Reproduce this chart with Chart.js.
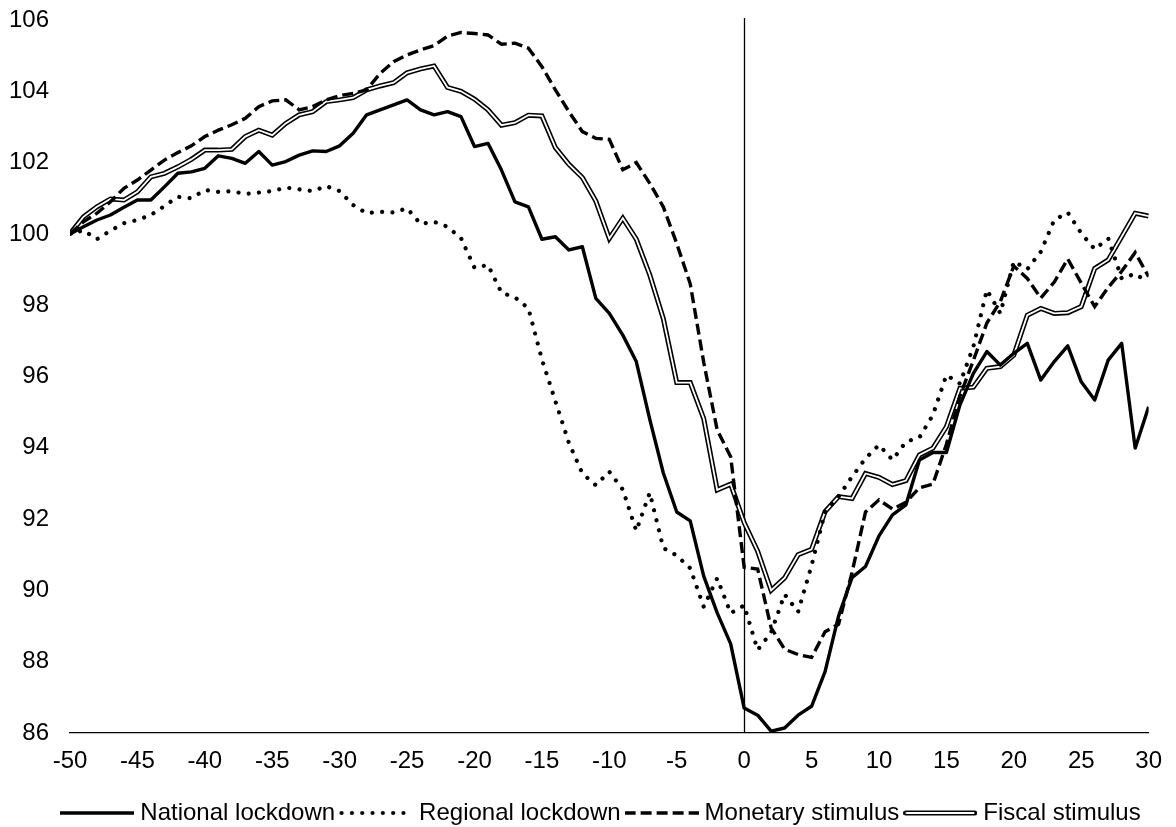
<!DOCTYPE html>
<html>
<head>
<meta charset="utf-8">
<script src="https://cdn.jsdelivr.net/npm/chart.js@4.4.1/dist/chart.umd.min.js"></script>
<style>
html,body{margin:0;padding:0;background:#ffffff;}
canvas{display:block;}
</style>
</head>
<body>
<canvas id="chart" width="1176" height="827"></canvas>
<script>
// ---- Data ----
const days = [-50,-49,-48,-47,-46,-45,-44,-43,-42,-41,
  -40,-39,-38,-37,-36,-35,-34,-33,-32,-31,
  -30,-29,-28,-27,-26,-25,-24,-23,-22,-21,
  -20,-19,-18,-17,-16,-15,-14,-13,-12,-11,
  -10,-9,-8,-7,-6,-5,-4,-3,-2,-1,
  0,1,2,3,4,5,6,7,8,9,
  10,11,12,13,14,15,16,17,18,19,
  20,21,22,23,24,25,26,27,28,29,
  30];

const nationalLockdown = [100,100.2,100.39,100.53,100.75,100.95,100.95,101.32,101.7,101.74,
  101.84,102.19,102.12,101.98,102.31,101.93,102.03,102.21,102.33,102.31,
  102.47,102.82,103.34,103.48,103.62,103.76,103.48,103.34,103.43,103.29,
  102.45,102.54,101.79,100.9,100.76,99.85,99.92,99.55,99.64,98.19,
  97.77,97.16,96.42,94.8,93.3,92.2,91.95,90.4,89.37,88.5,
  86.7,86.5,86.05,86.14,86.5,86.75,87.72,89.28,90.36,90.67,
  91.53,92.12,92.4,93.66,93.87,93.87,95.2,96.09,96.7,96.32,
  96.65,96.93,95.9,96.42,96.86,95.85,95.34,96.46,96.93,93.99,
  95.15];

const regionalLockdown = [100,100.1,99.85,100.09,100.3,100.39,100.53,100.78,101.04,101.0,
  101.23,101.18,101.2,101.12,101.16,101.2,101.3,101.25,101.2,101.34,
  101.2,100.81,100.58,100.62,100.6,100.72,100.28,100.34,100.2,99.88,
  99.05,99.13,98.35,98.22,97.91,96.48,95.31,94.14,93.28,92.95,
  93.33,92.83,91.67,92.74,91.19,90.98,90.62,89.54,90.34,89.36,
  89.58,88.33,88.82,89.89,89.4,90.7,92.2,92.63,93.19,93.7,
  94.08,93.66,94.17,94.29,94.92,96.04,95.8,96.84,98.43,97.77,
  99.23,99.01,99.5,100.39,100.6,100.02,99.57,99.87,98.75,98.88,
  98.63];

const monetaryStimulus = [100,100.34,100.58,100.9,101.28,101.51,101.79,102.07,102.28,102.47,
  102.73,102.91,103.06,103.24,103.57,103.73,103.76,103.48,103.57,103.76,
  103.88,103.94,104.04,104.5,104.83,105.02,105.16,105.28,105.55,105.65,
  105.62,105.58,105.32,105.35,105.21,104.69,104.04,103.43,102.87,102.68,
  102.65,101.8,102.0,101.42,100.76,99.73,98.6,96.4,94.5,93.75,
  90.65,90.6,88.95,88.35,88.2,88.12,88.84,89.05,90.5,92.2,
  92.54,92.28,92.47,92.88,92.98,94.1,95.45,96.45,97.5,98.1,
  99.1,98.75,98.2,98.65,99.3,98.62,97.96,98.5,98.95,99.48,
  98.8];

const fiscalStimulus = [100,100.48,100.76,100.98,100.95,101.18,101.6,101.7,101.88,102.09,
  102.35,102.35,102.37,102.73,102.91,102.77,103.1,103.34,103.43,103.71,
  103.76,103.82,104.04,104.15,104.24,104.52,104.63,104.71,104.11,104.0,
  103.78,103.48,103.05,103.12,103.33,103.31,102.42,101.95,101.58,100.92,
  99.87,100.44,99.85,98.85,97.63,95.83,95.83,94.82,92.82,92.98,
  91.9,91.1,90.0,90.35,91.0,91.15,92.21,92.63,92.58,93.28,
  93.17,92.97,93.08,93.8,93.99,94.59,95.67,95.7,96.23,96.28,
  96.6,97.72,97.91,97.77,97.79,97.96,99.03,99.27,99.92,100.58,
  100.5];

const seriesNames = ['National lockdown','Regional lockdown','Monetary stimulus','Fiscal stimulus'];
const xTickValues = [-50,-45,-40,-35,-30,-25,-20,-15,-10,-5,0,5,10,15,20,25,30];
const yTickValues = [86,88,90,92,94,96,98,100,102,104,106];

// ---- Helpers ----
const FONT = '"Liberation Sans", Arial, Helvetica, sans-serif';
Chart.defaults.font.family = FONT;
Chart.defaults.color = '#000000';

function pairUp(values){ return days.map((d,i)=>({x:d, y:values[i]})); }

const SAMPLE_W = 74;
function makeSample(kind){
  const c = document.createElement('canvas');
  c.width = SAMPLE_W; c.height = 12;
  const g = c.getContext('2d');
  const y = 6;
  g.strokeStyle = '#000';
  if (kind === 'solid'){
    g.lineWidth = 3.4; g.beginPath(); g.moveTo(0,y); g.lineTo(SAMPLE_W,y); g.stroke();
  } else if (kind === 'dot'){
    g.lineWidth = 4.2; g.lineCap = 'round'; g.setLineDash([0.01, 10.3]);
    g.beginPath(); g.moveTo(2.5,y); g.lineTo(SAMPLE_W-1,y); g.stroke();
  } else if (kind === 'dash'){
    g.lineWidth = 3.4; g.setLineDash([11, 5]);
    g.beginPath(); g.moveTo(0,y); g.lineTo(SAMPLE_W,y); g.stroke();
  } else if (kind === 'double'){
    g.lineWidth = 5; g.lineCap = 'round';
    g.beginPath(); g.moveTo(2.5,y); g.lineTo(SAMPLE_W-2.5,y); g.stroke();
    g.strokeStyle = '#fff'; g.lineWidth = 1.8; g.lineCap = 'butt';
    g.beginPath(); g.moveTo(2.5,y); g.lineTo(SAMPLE_W-3,y); g.stroke();
  }
  return c;
}
const samples = [makeSample('solid'), makeSample('dot'), makeSample('dash'), makeSample('double')];

// vertical line at x = 0
const zeroLine = {
  id: 'zeroLine',
  beforeDatasetsDraw(chart){
    const {ctx, chartArea, scales} = chart;
    const px = Math.round(scales.x.getPixelForValue(0)) + 0.5;
    ctx.save();
    ctx.strokeStyle = '#000'; ctx.lineWidth = 1.3;
    ctx.beginPath(); ctx.moveTo(px, chartArea.top - 2); ctx.lineTo(px, chartArea.bottom); ctx.stroke();
    ctx.restore();
  }
};

// white core for the double-line series
const doubleLine = {
  id: 'doubleLine',
  afterDatasetDraw(chart, args){
    const ds = chart.data.datasets[args.index];
    if (!ds.doubleLine) return;
    const pts = args.meta.data;
    const {ctx, chartArea} = chart;
    ctx.save();
    ctx.beginPath();
    ctx.rect(chartArea.left - 5, chartArea.top - 5, chartArea.width + 10, chartArea.height + 10);
    ctx.clip();
    ctx.strokeStyle = '#ffffff'; ctx.lineWidth = 1.8; ctx.lineJoin = 'miter';
    ctx.beginPath();
    pts.forEach((p,i)=>{ if(i===0) ctx.moveTo(p.x,p.y); else ctx.lineTo(p.x,p.y); });
    ctx.stroke();
    ctx.restore();
  }
};

// place the legend row where it sits in the reference
const legendShift = {
  id: 'legendShift',
  afterLayout(chart){
    const l = chart.legend;
    if (l){ l.left += 52; l.top += 8; l.bottom += 8; }
  }
};

const ctx = document.getElementById('chart').getContext('2d');
new Chart(ctx, {
  type: 'line',
  data: {
    datasets: [
      { label: seriesNames[0], data: pairUp(nationalLockdown), borderColor: '#000', borderWidth: 3.4,
        borderJoinStyle: 'round', pointRadius: 0, fill: false },
      { label: seriesNames[1], data: pairUp(regionalLockdown), borderColor: '#000', borderWidth: 4.2,
        borderDash: [0.01, 10.3], borderCapStyle: 'round', pointRadius: 0, fill: false },
      { label: seriesNames[2], data: pairUp(monetaryStimulus), borderColor: '#000', borderWidth: 3.4,
        borderDash: [11, 5], borderCapStyle: 'butt', pointRadius: 0, fill: false },
      { label: seriesNames[3], data: pairUp(fiscalStimulus), borderColor: '#000', borderWidth: 5,
        borderJoinStyle: 'miter', pointRadius: 0, fill: false, doubleLine: true }
    ]
  },
  options: {
    responsive: false,
    animation: false,
    events: [],
    layout: { padding: { left: 0, right: 21, top: 20, bottom: 0 } },
    elements: { line: { tension: 0 }, point: { radius: 0 } },
    scales: {
      x: {
        type: 'linear', min: -50, max: 30,
        afterBuildTicks(s){ s.ticks = xTickValues.map(v=>({value:v})); },
        ticks: { padding: 14, color: '#000', font: { size: 24 }, maxRotation: 0, autoSkip: false },
        grid: { display: false, drawTicks: false },
        border: { display: true, color: '#000', width: 1.3 },
        afterFit(s){ s.height = 50; }
      },
      y: {
        type: 'linear', min: 86, max: 106,
        afterBuildTicks(s){ s.ticks = yTickValues.map(v=>({value:v})); },
        ticks: { padding: 21, color: '#000', font: { size: 24 } },
        grid: { display: false, drawTicks: false },
        border: { display: false },
        afterFit(s){ s.width = 70; s.paddingTop = 0; s.paddingBottom = 0; }
      }
    },
    plugins: {
      tooltip: { enabled: false },
      legend: {
        position: 'bottom',
        labels: {
          usePointStyle: true,
          pointStyleWidth: SAMPLE_W - 12,
          padding: 10,
          color: '#000',
          font: { size: 24 },
          generateLabels(chart){
            return chart.data.datasets.map((ds,i)=>({
              text: ds.label, pointStyle: samples[i], fillStyle: '#000', strokeStyle: '#000',
              lineWidth: 0, hidden: false, datasetIndex: i, fontColor: '#000'
            }));
          }
        }
      }
    }
  },
  plugins: [zeroLine, doubleLine, legendShift]
});
</script>
</body>
</html>
